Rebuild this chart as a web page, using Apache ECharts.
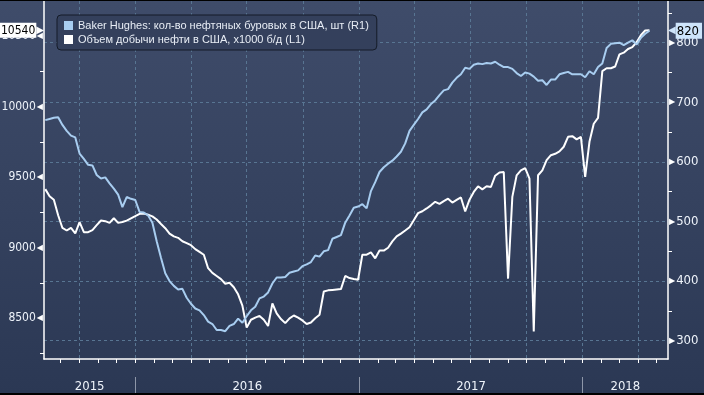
<!DOCTYPE html>
<html><head><meta charset="utf-8">
<script src="https://cdn.jsdelivr.net/npm/echarts@6/dist/echarts.min.js"></script>
<style>
html,body{margin:0;padding:0;background:#000;width:704px;height:395px;overflow:hidden}
#c{position:absolute;left:0;top:1px;width:704px;height:392px}
</style></head><body><div id="c"></div>
<script>
// ---- data ----
const firstWeek = [2015, 7, 7]; // Fri 7 Aug 2015, weekly observations
const seriesNames = [
  'Baker Hughes: кол-во нефтяных буровых в США, шт (R1)',
  'Объем добычи нефти в США, x1000 б/д (L1)'
];
const rigCount = [
  670,672,674,675,662,652,644,641,614,605,595,594,578,572,574,564,555,545,524,541,538,536,
  516,515,510,498,467,439,413,400,392,386,387,372,362,354,351,343,332,328,318,318,316,325,328,337,330,
  341,351,357,371,374,381,396,406,406,407,414,416,418,425,428,432,443,441,450,452,471,474,477,498,510,523,525,
  529,522,551,566,583,591,597,602,609,617,631,652,662,672,683,688,697,703,712,720,722,733,741,747,758,756,
  763,765,764,766,765,768,763,759,759,756,749,744,750,748,743,736,737,729,738,738,747,749,751,747,747,747,
  742,752,747,759,765,791,798,799,800,796,800,804,797,808,815,820
];
const oilOutput = [
  9415,9365,9340,9230,9140,9122,9141,9102,9181,9110,9110,9125,9160,9193,9188,9176,9209,9176,9182,9192,9208,9224,
  9240,9242,9233,9222,9200,9168,9138,9100,9080,9070,9046,9033,9018,8990,8970,8950,8855,8822,8800,8778,
  8745,8752,8720,8670,8590,8434,8490,8505,8517,8490,8446,8605,8535,8495,8466,8500,8520,8505,8485,8460,
  8470,8500,8525,8690,8698,8701,8704,8707,8800,8785,8778,8773,
  8951,8951,8967,8925,8980,8980,9000,9045,9080,9100,9122,9145,9195,9245,9258,9278,9300,9325,9310,9330,
  9347,9320,9338,9356,9257,9340,9395,9435,9413,9435,9430,9510,9533,9536,8781,9360,9512,9547,9563,9489,
  8407,9513,9548,9620,9655,9665,9682,9715,9785,9790,9767,9785,
  9501,9750,9878,9919,10251,10271,10271,10283,10369,10381,10407,10420,10455,10505,10538,10540
];
const leftLabels = [8500, 9000, 9500, 10000, 10500];
const leftMinorTicks = [8250, 8750, 9250, 9750, 10250];
const rightLabels = [300, 400, 500, 600, 700, 800];
const rightMinorTicks = [350, 450, 550, 650, 750, 850];
const yearStarts = [2016, 2017, 2018];

// ---- scales ----
const DAY = 86400000;
const t0 = Date.UTC(firstWeek[0], firstWeek[1], firstWeek[2]);
const dates = rigCount.map((_, i) => t0 + i * 7 * DAY);
const xMin = t0 - 2.1 * DAY, xMax = t0 + 1017.3 * DAY;
const leftMin = 8212, leftMax = 10747;
const rightMin = 269.3, rightMax = 869.9;

const monthTicks = [];
for (let y = 2015; y <= 2018; y++) for (let m = 0; m < 12; m++) {
  const t = Date.UTC(y, m, 1); if (t > xMin && t < xMax) monthTicks.push(t);
}
const quarterTicks = monthTicks.filter(t => new Date(t).getUTCMonth() % 3 === 0);
const yearTicks = yearStarts.map(y => Date.UTC(y, 0, 1));
const bounds = [xMin, ...yearTicks, xMax];
const yearMids = [];
for (let i = 0; i < bounds.length - 1; i++) yearMids.push((bounds[i] + bounds[i + 1]) / 2);

const whiteData = dates.map((d, i) => [d, oilOutput[i]]);
const blueData = dates.map((d, i) => [d, rigCount[i]]);
const lastOil = oilOutput[oilOutput.length - 1];
const lastRig = rigCount[rigCount.length - 1];

const NARROW = '"DejaVu Sans Condensed", "Liberation Sans", sans-serif';
const LBL = '#eef3fa';
const GRIDC = '#587592';
const BLUE = '#a8cdf0';

const chart = echarts.init(document.getElementById('c'), null, {renderer: 'canvas'});
chart.setOption({
  animation: false,
  backgroundColor: {type: 'linear', x: 0, y: 0, x2: 0, y2: 1,
    colorStops: [{offset: 0, color: '#3f4c6a'}, {offset: 1, color: '#2b3854'}]},
  grid: {left: 44, right: 36, top: 0, bottom: 34, containLabel: false, outerBoundsMode: 'none'},
  legend: {
    left: 57, top: 14, orient: 'vertical', icon: 'rect', itemWidth: 9, itemHeight: 9, itemGap: 3,
    padding: [5, 8, 5, 7], backgroundColor: '#34405c', borderColor: '#141b28', borderWidth: 1, borderRadius: 4,
    textStyle: {color: '#e8edf5', fontSize: 11, fontFamily: '"Liberation Sans", Arial, sans-serif'},
    data: [seriesNames[0], seriesNames[1]]
  },
  xAxis: [
    {type: 'value', min: xMin, max: xMax, position: 'bottom',
     axisLine: {show: true, lineStyle: {color: '#fff', width: 1.5}},
     axisTick: {show: true, customValues: monthTicks, length: 4, lineStyle: {color: '#fff'}},
     axisLabel: {show: false}, splitLine: {show: false}},
    {type: 'value', min: xMin, max: xMax, position: 'bottom', offset: 18,
     axisLine: {show: false},
     axisTick: {show: true, customValues: yearTicks, length: 19, lineStyle: {color: '#8d96a8'}},
     axisLabel: {show: true, customValues: yearMids, margin: 3, color: LBL, fontSize: 13, fontFamily: NARROW,
       formatter: v => String(new Date(v).getUTCFullYear())},
     splitLine: {show: false}},
    {type: 'value', min: xMin, max: xMax, position: 'bottom',
     axisLine: {show: false}, axisTick: {show: false, customValues: quarterTicks}, axisLabel: {show: false},
     splitLine: {show: true, lineStyle: {color: GRIDC, type: [3, 3], width: 1}}}
  ],
  yAxis: [
    {type: 'value', position: 'left', min: leftMin, max: leftMax,
     axisLine: {show: true, lineStyle: {color: '#fff', width: 1.5}},
     axisTick: {show: true, customValues: leftMinorTicks, length: 4, lineStyle: {color: '#fff'}},
     axisLabel: {show: true, customValues: leftLabels, margin: 1,
       formatter: v => '{v|' + v + '}{t|◀}',
       rich: {v: {color: LBL, fontSize: 12, fontFamily: NARROW},
              t: {color: '#fff', fontSize: 8, fontFamily: 'DejaVu Sans', padding: [0, 0, 0, 1]}}},
     splitLine: {show: false}},
    {type: 'value', position: 'right', min: rightMin, max: rightMax,
     axisLine: {show: true, lineStyle: {color: '#fff', width: 1.5}},
     axisTick: {show: true, customValues: rightMinorTicks, length: 4, lineStyle: {color: '#fff'}},
     axisLabel: {show: true, customValues: rightLabels, margin: 1,
       formatter: v => '{t|▶}{v|' + v + '}',
       rich: {v: {color: LBL, fontSize: 13, fontFamily: NARROW},
              t: {color: '#fff', fontSize: 8, fontFamily: 'DejaVu Sans', padding: [0, 1, 0, 0]}}},
     splitLine: {show: false}},
    {type: 'value', position: 'left', min: leftMin, max: leftMax, z: 5,
     axisLine: {show: false}, axisTick: {show: false},
     axisLabel: {show: true, customValues: [lastOil], margin: 0,
       formatter: v => '{b|' + v + '}{a|▶}',
       rich: {b: {backgroundColor: '#ffffff', color: '#000', fontSize: 12, fontFamily: NARROW, padding: [2, 1, 1, 2]},
              a: {color: '#ffffff', fontSize: 10, fontFamily: 'DejaVu Sans'}}},
     splitLine: {show: false}},
    {type: 'value', position: 'right', min: rightMin, max: rightMax, z: 5,
     axisLine: {show: false}, axisTick: {show: false},
     axisLabel: {show: true, customValues: [lastRig], margin: 0,
       formatter: v => '{a|◀}{b|' + v + '}',
       rich: {b: {backgroundColor: '#cde4fb', color: '#000', fontSize: 13, fontFamily: NARROW, padding: [2, 3, 1, 1]},
              a: {color: '#cde4fb', fontSize: 10, fontFamily: 'DejaVu Sans'}}},
     splitLine: {show: false}},
    {type: 'value', position: 'right', min: rightMin, max: rightMax,
     axisLine: {show: false}, axisTick: {show: false, customValues: rightLabels}, axisLabel: {show: false},
     splitLine: {show: true, lineStyle: {color: GRIDC, type: [3, 3], width: 1}}}
  ],
  series: [
    {name: seriesNames[1], type: 'line', xAxisIndex: 0, yAxisIndex: 0, data: whiteData,
     showSymbol: false, symbol: 'none', color: '#ffffff', lineStyle: {color: '#ffffff', width: 2}, z: 3},
    {name: seriesNames[0], type: 'line', xAxisIndex: 0, yAxisIndex: 1, data: blueData,
     showSymbol: false, symbol: 'none', color: BLUE, lineStyle: {color: BLUE, width: 2}, z: 4}
  ]
});
</script></body></html>
